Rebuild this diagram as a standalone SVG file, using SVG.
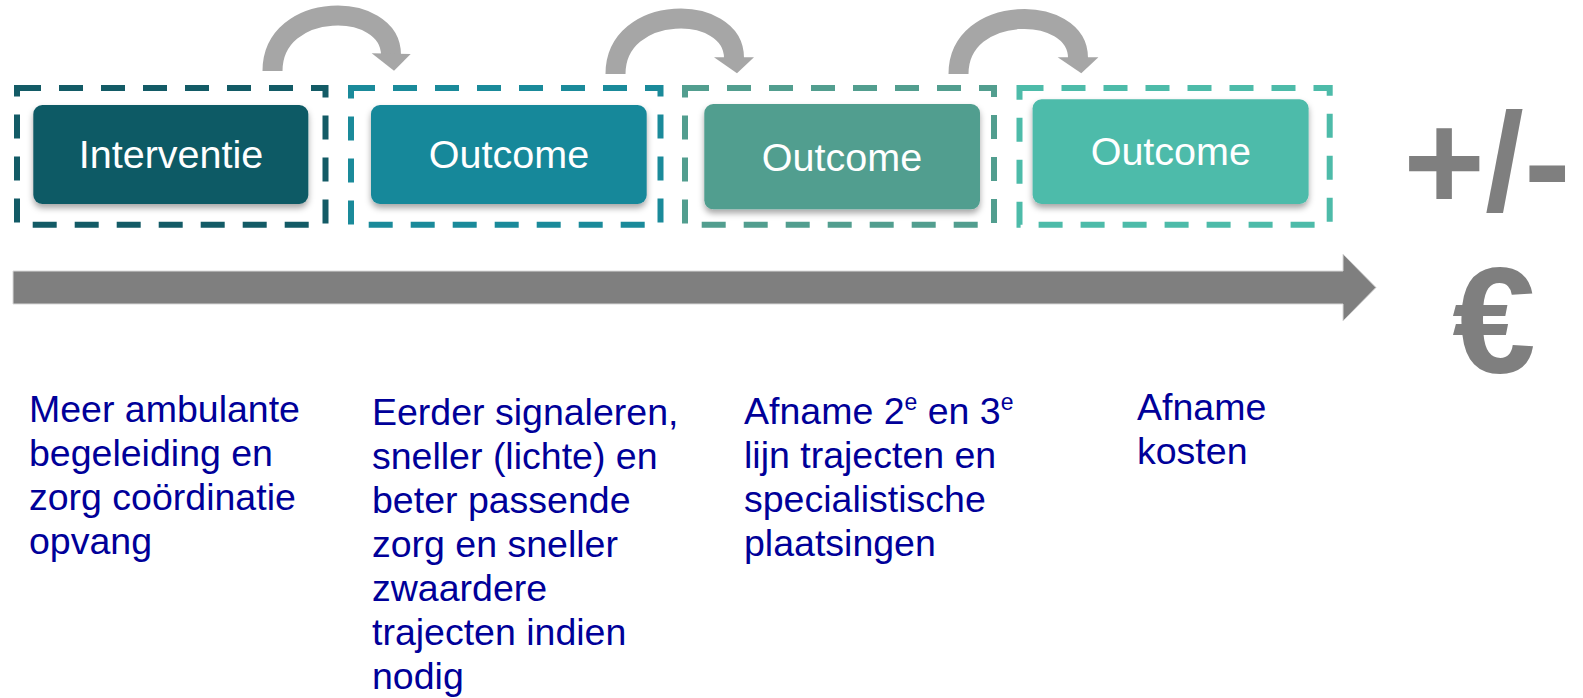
<svg xmlns="http://www.w3.org/2000/svg" width="1583" height="698" viewBox="0 0 1583 698">
<defs>
<filter id="sh" x="-10%" y="-20%" width="120%" height="150%">
<feDropShadow dx="0" dy="4" stdDeviation="3" flood-color="#000" flood-opacity="0.35"/>
</filter>
<filter id="tsh" x="-100%" y="-10%" width="300%" height="130%">
<feDropShadow dx="0" dy="3" stdDeviation="1.5" flood-color="#000" flood-opacity="0.3"/>
</filter>
</defs>
<style>
.frame{fill:none;stroke-width:6;stroke-dasharray:24 18}
.box{filter:url(#sh)}
.lbl{font-family:"Liberation Sans",Arial,sans-serif;font-size:39.5px;fill:#fff;text-anchor:middle}
.desc{font-family:"Liberation Sans",Arial,sans-serif;font-size:37.5px;fill:#000099}
.tick{stroke-width:6;stroke-dasharray:24 18;filter:url(#tsh)}
.arc{fill:none;stroke:#a6a6a6;stroke-width:20}
.head{fill:#a6a6a6}
.big{font-family:"Liberation Sans",Arial,sans-serif;font-weight:bold;fill:#7f7f7f}
</style>
<rect width="1583" height="698" fill="#fff"/>

<g id="connectors">
<line class="tick" x1="170.8" y1="225" x2="170.8" y2="331" stroke="#135b66"/>
<line class="tick" x1="505" y1="225" x2="505" y2="331" stroke="#1a8a9a"/>
<line class="tick" x1="839.5" y1="225" x2="839.5" y2="331" stroke="#529e8f"/>
<line class="tick" x1="1174.5" y1="225" x2="1174.5" y2="331" stroke="#4dbba9"/>
<path id="timeline" d="M13 271 H1343 V254 L1376 287.5 L1343 321 V304 H13 Z" fill="#7f7f7f" stroke="#d9d9d9" stroke-width="1"/>
<path class="arc" d="M272.5 71 C272.5 0 391 0 391 55"/>
<polygon class="head" points="371.7,53.3 410.7,54 394,70.7"/>
<path class="arc" d="M615.5 74 C615.5 3 734 3 734 58"/>
<polygon class="head" points="714,57.3 754,57.3 737,73.3"/>
<path class="arc" d="M958.5 74 C958.5 3.5 1078 3.5 1078 58"/>
<polygon class="head" points="1057.7,57.3 1098.4,57.3 1081.3,73.3"/>
</g>

<g id="node-interventie">
<rect class="frame" x="17" y="88" width="308.5" height="136.7" stroke="#135b66"/>
<rect class="box" x="33.3" y="105" width="275" height="99" rx="9" fill="#115a65"/>
<text class="lbl" x="171" y="168">Interventie</text>
</g>

<g id="node-outcome1">
<rect class="frame" x="351" y="88" width="309.5" height="136.7" stroke="#1a8a9a"/>
<rect class="box" x="371" y="105" width="275.7" height="99" rx="9" fill="#18889a"/>
<text class="lbl" x="509" y="168">Outcome</text>
</g>

<g id="node-outcome2">
<rect class="frame" x="685" y="88" width="309" height="136.7" stroke="#529e8f"/>
<rect class="box" x="704.3" y="104" width="275.7" height="105.3" rx="9" fill="#519e8f"/>
<text class="lbl" x="842" y="170.7">Outcome</text>
</g>

<g id="node-outcome3">
<rect class="frame" x="1019.5" y="88" width="310.2" height="136.7" stroke="#4dbba9"/>
<rect class="box" x="1032.6" y="99.3" width="276" height="104.7" rx="9" fill="#4dbbaa"/>
<text class="lbl" x="1170.8" y="165">Outcome</text>
</g>

<g id="result">
<text class="big" x="1487" y="210" font-size="140" text-anchor="middle">+/-</text>
<text class="big" x="1494" y="373" font-size="150" text-anchor="middle">€</text>
</g>

<g id="desc-1">
<text class="desc" x="29" y="421.7">Meer ambulante</text>
<text class="desc" x="29" y="465.7">begeleiding en</text>
<text class="desc" x="29" y="509.7">zorg coördinatie</text>
<text class="desc" x="29" y="553.7">opvang</text>
</g>

<g id="desc-2">
<text class="desc" x="372" y="424.5">Eerder signaleren,</text>
<text class="desc" x="372" y="468.5">sneller (lichte) en</text>
<text class="desc" x="372" y="512.5">beter passende</text>
<text class="desc" x="372" y="556.5">zorg en sneller</text>
<text class="desc" x="372" y="600.5">zwaardere</text>
<text class="desc" x="372" y="644.5">trajecten indien</text>
<text class="desc" x="372" y="688.5">nodig</text>
</g>

<g id="desc-3">
<text class="desc" x="744" y="424">Afname 2<tspan font-size="23" dy="-14">e</tspan><tspan dy="14"> en 3</tspan><tspan font-size="23" dy="-14">e</tspan></text>
<text class="desc" x="744" y="468">lijn trajecten en</text>
<text class="desc" x="744" y="512">specialistische</text>
<text class="desc" x="744" y="556">plaatsingen</text>
</g>

<g id="desc-4">
<text class="desc" x="1137" y="420">Afname</text>
<text class="desc" x="1137" y="464">kosten</text>
</g>
</svg>
